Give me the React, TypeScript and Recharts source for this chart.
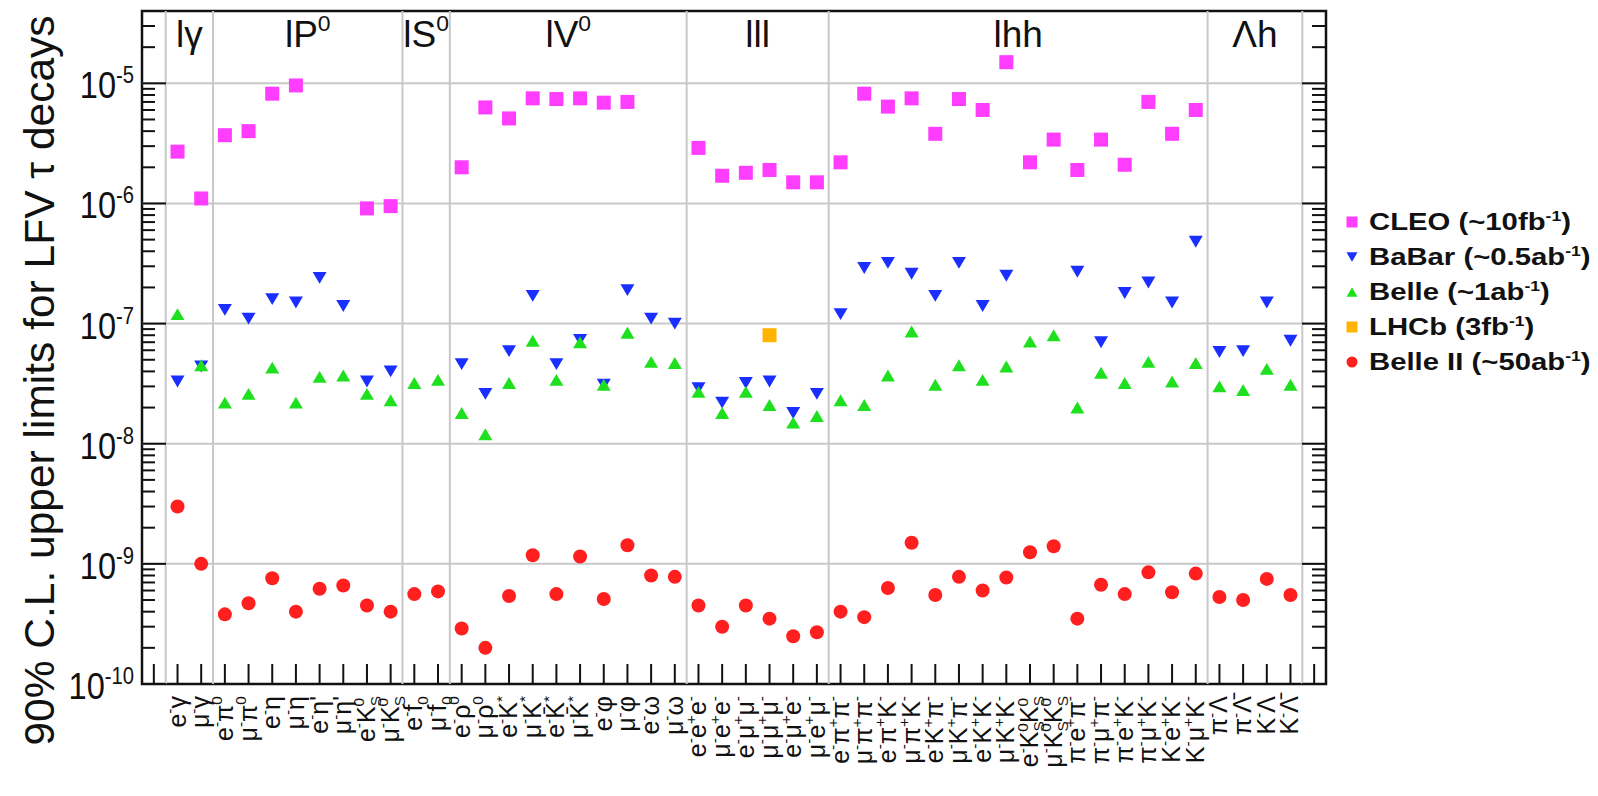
import React from "react";
import { ScatterChart, Scatter, XAxis, YAxis, ReferenceLine, ReferenceArea } from "recharts";

const FONT = '"Liberation Sans", Arial, Helvetica, sans-serif';

// decay modes, one per slot ( ^x = superscript, _x = subscript )
const modes = [
  "e^-γ", "μ^-γ",
  "e^-π^0", "μ^-π^0", "e^-η", "μ^-η", "e^-η'", "μ^-η'", "e^-K_S^0", "μ^-K_S^0",
  "e^-f_0", "μ^-f_0",
  "e^-ρ^0", "μ^-ρ^0", "e^-K^*", "μ^-K^*", "e^-K\u0304^*", "μ^-K\u0304^*", "e^-φ", "μ^-φ", "e^-ω", "μ^-ω",
  "e^-e^+e^-", "μ^-e^+e^-", "e^-μ^+μ^-", "μ^-μ^+μ^-", "e^-μ^+e^-", "μ^-e^+μ^-",
  "e^-π^+π^-", "μ^-π^+π^-", "e^-π^+K^-", "μ^-π^+K^-", "e^-K^+π^-", "μ^-K^+π^-", "e^-K^+K^-", "μ^-K^+K^-",
  "e^-K_S^0K_S^0", "μ^-K_S^0K_S^0", "π^-e^+π^-", "π^-μ^+π^-", "π^-e^+K^-", "π^-μ^+K^-", "K^-e^+K^-", "K^-μ^+K^-",
  "π^-Λ", "π^-Λ\u0304", "K^-Λ", "K^-Λ\u0304",
];

const groupNames = ["lγ", "lP^0", "lS^0", "lV^0", "lll", "lhh", "Λh"];
const groupSizes = [2, 8, 2, 10, 6, 16, 4];

const cleo = [
  2.7e-6, 1.1e-6,
  3.7e-6, 4.0e-6, 8.2e-6, 9.6e-6, null, null, 9.1e-7, 9.5e-7,
  null, null,
  2.0e-6, 6.3e-6, 5.1e-6, 7.5e-6, 7.4e-6, 7.5e-6, 6.9e-6, 7.0e-6, null, null,
  2.9e-6, 1.7e-6, 1.8e-6, 1.9e-6, 1.5e-6, 1.5e-6,
  2.2e-6, 8.2e-6, 6.4e-6, 7.5e-6, 3.8e-6, 7.4e-6, 6.0e-6, 1.5e-5, 2.2e-6, 3.4e-6, 1.9e-6, 3.4e-6, 2.1e-6, 7.0e-6, 3.8e-6, 6.0e-6,
  null, null, null, null,
];

const babar = [
  3.3e-8, 4.4e-8,
  1.3e-7, 1.1e-7, 1.6e-7, 1.5e-7, 2.4e-7, 1.4e-7, 3.3e-8, 4.0e-8,
  null, null,
  4.6e-8, 2.6e-8, 5.9e-8, 1.7e-7, 4.6e-8, 7.3e-8, 3.1e-8, 1.9e-7, 1.1e-7, 1.0e-7,
  2.9e-8, 2.2e-8, 3.2e-8, 3.3e-8, 1.8e-8, 2.6e-8,
  1.2e-7, 2.9e-7, 3.2e-7, 2.6e-7, 1.7e-7, 3.2e-7, 1.4e-7, 2.5e-7, null, null, 2.7e-7, 7.0e-8, 1.8e-7, 2.2e-7, 1.5e-7, 4.8e-7,
  5.8e-8, 5.9e-8, 1.5e-7, 7.2e-8,
];

const belle = [
  1.2e-7, 4.5e-8,
  2.2e-8, 2.6e-8, 4.3e-8, 2.2e-8, 3.6e-8, 3.7e-8, 2.6e-8, 2.3e-8,
  3.2e-8, 3.4e-8,
  1.8e-8, 1.2e-8, 3.2e-8, 7.2e-8, 3.4e-8, 7.0e-8, 3.1e-8, 8.4e-8, 4.8e-8, 4.7e-8,
  2.7e-8, 1.8e-8, 2.7e-8, 2.1e-8, 1.5e-8, 1.7e-8,
  2.3e-8, 2.1e-8, 3.7e-8, 8.6e-8, 3.1e-8, 4.5e-8, 3.4e-8, 4.4e-8, 7.1e-8, 8.0e-8, 2.0e-8, 3.9e-8, 3.2e-8, 4.8e-8, 3.3e-8, 4.7e-8,
  3.0e-8, 2.8e-8, 4.2e-8, 3.1e-8,
];

const lhcb = [
  null, null,
  null, null, null, null, null, null, null, null,
  null, null,
  null, null, null, null, null, null, null, null, null, null,
  null, null, null, 8.0e-8, null, null,
  null, null, null, null, null, null, null, null, null, null, null, null, null, null, null, null,
  null, null, null, null,
];

const belle2 = [
  3.0e-9, 1.0e-9,
  3.8e-10, 4.7e-10, 7.6e-10, 4.0e-10, 6.2e-10, 6.6e-10, 4.5e-10, 4.0e-10,
  5.6e-10, 5.9e-10,
  2.9e-10, 2.0e-10, 5.4e-10, 1.18e-9, 5.6e-10, 1.15e-9, 5.1e-10, 1.43e-9, 8.0e-10, 7.8e-10,
  4.5e-10, 3.0e-10, 4.5e-10, 3.5e-10, 2.5e-10, 2.7e-10,
  4.0e-10, 3.6e-10, 6.3e-10, 1.5e-9, 5.5e-10, 7.8e-10, 6.0e-10, 7.7e-10, 1.25e-9, 1.4e-9, 3.5e-10, 6.7e-10, 5.6e-10, 8.5e-10, 5.8e-10, 8.3e-10,
  5.3e-10, 5.0e-10, 7.5e-10, 5.5e-10,
];

const legendNames = ["CLEO", "BaBar", "Belle", "LHCb", "Belle II"];
const legendLumis = ["(~10fb", "(~0.5ab", "(~1ab", "(3fb", "(~50ab"];
const colors = ["#ff3dff", "#1a2fff", "#1fe01f", "#ffb400", "#ff1f1f"];
const markers = ["square", "down", "up", "square", "circle"];

const decades = [-10, -9, -8, -7, -6, -5];
const Y_MIN = 1e-10;
const Y_MAX = 4e-5;

// one empty slot on each side of the modes
const SLOTS = modes.length + 2;
const xTicks = Array.from({ length: SLOTS }, (_, i) => i + 0.5);

const yTicks: number[] = [];
decades.forEach((e) => {
  for (let m = 1; m <= 9; m++) {
    const v = m * Math.pow(10, e);
    if (v <= Y_MAX * 1.0001) yTicks.push(v);
  }
});

const groupEdges: number[] = [1];
groupSizes.forEach((n) => groupEdges.push(groupEdges[groupEdges.length - 1] + n));

const toPoints = (vals: (number | null)[]) =>
  vals.map((v, i) => ({ x: i + 1.5, y: v })).filter((p) => p.y != null);

const isMajor = (v: number) => Math.abs(Math.log10(v) - Math.round(Math.log10(v))) < 1e-6;

// text with ^sup / _sub markup as tspans
function rich(src: string, fs: number) {
  const out: React.ReactNode[] = [];
  let shift = 0;
  let prevSub = false;
  let i = 0;
  let k = 0;
  while (i < src.length) {
    const c = src[i];
    if ((c === "^" || c === "_") && i + 1 < src.length) {
      const target = c === "^" ? -0.42 * fs : 0.24 * fs;
      const dx = c === "^" && prevSub ? -0.42 * fs : 0;
      out.push(
        <tspan key={k++} dy={target - shift} dx={dx || undefined} fontSize={0.62 * fs}>
          {src[i + 1]}
        </tspan>
      );
      shift = target;
      prevSub = c === "_";
      i += 2;
    } else {
      let ch = c;
      i++;
      while (i < src.length && /[\u0300-\u036f]/.test(src[i])) {
        ch += src[i];
        i++;
      }
      out.push(
        <tspan key={k++} dy={-shift || undefined}>
          {ch}
        </tspan>
      );
      shift = 0;
      prevSub = false;
    }
  }
  return out;
}

const Marker = ({ kind, cx, cy, color, s }: any) => {
  if (kind === "square") return <rect x={cx - s / 2} y={cy - s / 2} width={s} height={s} fill={color} />;
  if (kind === "circle") return <circle cx={cx} cy={cy} r={s / 2} fill={color} />;
  const h = s * 0.85;
  if (kind === "down")
    return <polygon points={`${cx - s / 2},${cy - h / 2} ${cx + s / 2},${cy - h / 2} ${cx},${cy + h / 2}`} fill={color} />;
  return <polygon points={`${cx - s / 2},${cy + h / 2} ${cx + s / 2},${cy + h / 2} ${cx},${cy - h / 2}`} fill={color} />;
};

const LeftTick = (props: any) => {
  const { x, y, payload } = props;
  const v = payload.value as number;
  const major = isMajor(v);
  const exp = Math.round(Math.log10(v));
  return (
    <g>
      <line x1={x} x2={x + (major ? 24 : 13)} y1={y} y2={y} stroke="#111" strokeWidth={2} />
      {major && (
        <text
          transform={`translate(${x - 8}, ${y + 15}) scale(0.88, 1)`}
          textAnchor="end"
          fontFamily={FONT}
          fontSize={37}
          fill="#111"
        >
          <tspan>10</tspan>
          <tspan dy={-15} fontSize={23}>{`-${Math.abs(exp)}`}</tspan>
        </text>
      )}
    </g>
  );
};

const RightTick = (props: any) => {
  const { x, y, payload } = props;
  const major = isMajor(payload.value);
  return <line x1={x} x2={x - (major ? 24 : 14)} y1={y} y2={y} stroke="#111" strokeWidth={2} />;
};

const XTick = (props: any) => {
  const { x, y, payload } = props;
  const slot = Math.round(payload.value - 0.5);
  const label = modes[slot - 1];
  return (
    <g>
      <line x1={x} x2={x} y1={y} y2={y - 20} stroke="#111" strokeWidth={2} />
      {label && (
        <text
          transform={`translate(${x + 8}, ${y + 12}) rotate(-90)`}
          textAnchor="end"
          fontFamily={FONT}
          fontSize={25}
          fill="#111"
        >
          {rich(label, 25)}
        </text>
      )}
    </g>
  );
};

const GroupTitle = (props: any) => {
  const vb = props.viewBox || {};
  return (
    <text x={vb.x + vb.width / 2} y={vb.y + 36} textAnchor="middle" fontFamily={FONT} fontSize={37} fill="#111">
      {rich(props.text, 37)}
    </text>
  );
};

const YTitle = (props: any) => {
  const vb = props.viewBox || {};
  const cx = vb.x + 54;
  const cy = vb.y + vb.height / 2 + 33;
  return (
    <text transform={`translate(${cx}, ${cy}) rotate(-90)`} textAnchor="middle" fontFamily={FONT} fontSize={42.5} fill="#111">
      90% C.L. upper limits for LFV τ decays
    </text>
  );
};

const series = [cleo, babar, belle, lhcb, belle2];

export default function App() {
  return (
    <div style={{ position: "absolute", left: 0, top: 0, width: 1598, height: 796, background: "#fff" }}>
      <ScatterChart width={1598} height={796} margin={{ top: 11, right: 252, bottom: 0, left: 0 }}>
        <XAxis
          type="number"
          dataKey="x"
          domain={[0, SLOTS]}
          ticks={xTicks}
          interval={0}
          allowDataOverflow
          height={112}
          axisLine={false}
          tickLine={false}
          tickSize={0}
          tickMargin={0}
          tick={<XTick />}
        />
        <YAxis
          type="number"
          dataKey="y"
          scale="log"
          domain={[Y_MIN, Y_MAX]}
          allowDataOverflow
          ticks={yTicks}
          interval={0}
          width={142}
          axisLine={false}
          tickLine={false}
          tickSize={0}
          tickMargin={0}
          tick={<LeftTick />}
          label={(p: any) => <YTitle {...p} />}
        />
        <YAxis
          yAxisId="right"
          orientation="right"
          type="number"
          scale="log"
          domain={[Y_MIN, Y_MAX]}
          allowDataOverflow
          ticks={yTicks}
          interval={0}
          width={20}
          axisLine={false}
          tickLine={false}
          tickSize={0}
          tickMargin={0}
          tick={<RightTick />}
        />
        {decades.slice(1).map((e) => (
          <ReferenceLine key={`h${e}`} y={Math.pow(10, e)} stroke="#c8c8c8" strokeWidth={2} />
        ))}
        {groupEdges.map((g) => (
          <ReferenceLine key={`v${g}`} x={g} stroke="#c8c8c8" strokeWidth={2} />
        ))}
        {groupNames.map((name, i) => (
          <ReferenceArea
            key={name}
            x1={groupEdges[i]}
            x2={groupEdges[i + 1]}
            y1={1e-5}
            y2={Y_MAX}
            fill="none"
            stroke="none"
            label={(p: any) => <GroupTitle {...p} text={name} />}
          />
        ))}
        <ReferenceArea x1={0} x2={SLOTS} y1={Y_MIN} y2={Y_MAX} fill="none" stroke="#111" strokeWidth={2.5} />
        {series.map((vals, si) => (
          <Scatter
            key={legendNames[si]}
            name={legendNames[si]}
            data={toPoints(vals)}
            isAnimationActive={false}
            shape={(p: any) => <Marker kind={markers[si]} cx={p.cx} cy={p.cy} color={colors[si]} s={14} />}
          />
        ))}
      </ScatterChart>
      <div style={{ position: "absolute", left: 1345, top: 204, fontFamily: FONT, fontWeight: "bold", fontSize: 24, color: "#111" }}>
        {legendNames.map((name, i) => (
          <div key={name} style={{ height: 35, display: "flex", alignItems: "center", whiteSpace: "nowrap" }}>
            <svg width={14} height={14}>
              <Marker kind={markers[i]} cx={7} cy={7} color={colors[i]} s={11} />
            </svg>
            <span style={{ marginLeft: 10, display: "inline-block", transform: "scaleX(1.22)", transformOrigin: "left center" }}>
              {name} {legendLumis[i]}
              <sup style={{ fontSize: "0.6em" }}>-1</sup>)
            </span>
          </div>
        ))}
      </div>
    </div>
  );
}
